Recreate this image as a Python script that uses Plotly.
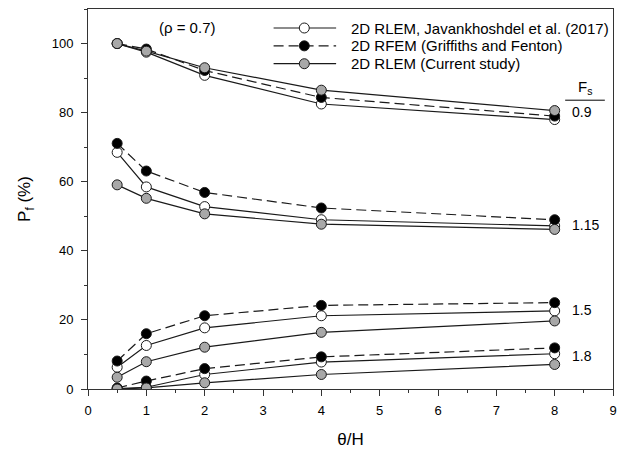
import plotly.graph_objects as go

# theta/H values shared by every curve
theta_h = [0.5, 1, 2, 4, 8]

# Probability of failure (%) for each factor of safety
rlem_jav = {
    "0.9": [100, 97.5, 90.8, 82.5, 78.0],
    "1.15": [68.5, 58.5, 52.8, 49.0, 47.2],
    "1.5": [6.3, 12.6, 17.7, 21.2, 22.6],
    "1.8": [0.1, 0.5, 4.2, 7.8, 10.2],
}
rfem_gf = {
    "0.9": [100, 98.4, 92.2, 84.4, 79.0],
    "1.15": [71.1, 63.1, 56.9, 52.4, 49.0],
    "1.5": [8.1, 16.0, 21.2, 24.2, 25.0],
    "1.8": [0.3, 2.3, 5.9, 9.3, 11.9],
}
rlem_cur = {
    "0.9": [100, 97.8, 93.0, 86.5, 80.6],
    "1.15": [59.1, 55.2, 50.7, 47.7, 46.2],
    "1.5": [3.4, 7.9, 12.1, 16.4, 19.7],
    "1.8": [0.0, 0.3, 1.8, 4.2, 7.1],
}
fs_labels = ["0.9", "1.15", "1.5", "1.8"]
fs_label_y = [80.1, 47.5, 22.9, 9.6]

legend_names = [
    "2D RLEM, Javankhoshdel et al. (2017)",
    "2D RFEM (Griffiths and Fenton)",
    "2D RLEM (Current study)",
]

font_family = "Liberation Sans, Arial, sans-serif"
line_col = "#1a1a1a"

series = [
    (rlem_jav, legend_names[0], "white", "solid"),
    (rfem_gf, legend_names[1], "black", "10px,5px"),
    (rlem_cur, legend_names[2], "#a8a8a8", "solid"),
]

fig = go.Figure()
for data, name, fill, dash in series:
    for fs in fs_labels:
        fig.add_trace(go.Scatter(
            x=theta_h, y=data[fs], mode="lines+markers",
            name=name, showlegend=False,
            line=dict(color=line_col, width=1.2, dash=dash),
            marker=dict(size=10, color=fill, line=dict(color=line_col, width=1)),
        ))

# Key drawn on an overlay axis spanning the plot area in fractional units
key_x0, key_x1, key_xm, key_text_x = 0.3535, 0.4726, 0.412, 0.497
key_rows = [0.950, 0.903, 0.856]
annotations = []
for (data, name, fill, dash), ky in zip(series, key_rows):
    fig.add_trace(go.Scatter(
        x=[key_x0, key_x1], y=[ky, ky], mode="lines", xaxis="x2", yaxis="y2",
        showlegend=False, hoverinfo="skip",
        line=dict(color=line_col, width=1.2, dash=dash)))
    fig.add_trace(go.Scatter(
        x=[key_xm], y=[ky], mode="markers", xaxis="x2", yaxis="y2",
        showlegend=False, hoverinfo="skip",
        marker=dict(size=10, color=fill, line=dict(color=line_col, width=1))))
    annotations.append(dict(x=key_text_x, y=ky, xref="x2", yref="y2", text=name,
                            showarrow=False, xanchor="left", yanchor="middle",
                            font=dict(size=15, family=font_family, color="black")))

annotations += [
    dict(x=1.70, y=104.6, xref="x", yref="y", text="(\u03c1 = 0.7)", showarrow=False,
         font=dict(size=15, family=font_family, color="black")),
    dict(x=8.52, y=87.2, xref="x", yref="y", text="F<sub>s</sub>", showarrow=False,
         font=dict(size=15, family=font_family, color="black")),
]
for lab, yy in zip(fs_labels, fs_label_y):
    annotations.append(dict(x=8.27, y=yy, xref="x", yref="y", text=lab, showarrow=False,
                            xanchor="left", font=dict(size=14, family=font_family, color="black")))

fig.update_layout(
    width=624, height=454,
    margin=dict(l=88, r=7, t=9, b=65),
    paper_bgcolor="white", plot_bgcolor="white",
    font=dict(family=font_family, size=13, color="black"),
    showlegend=False,
    annotations=annotations,
    shapes=[dict(type="line", xref="x", yref="y", x0=8.18, x1=8.86, y0=83.6, y1=83.6,
                 line=dict(color="black", width=1))],
    xaxis=dict(range=[0, 9], dtick=1, tick0=0, showgrid=False, zeroline=False,
               showline=True, linecolor="#333", linewidth=1, mirror=True,
               ticks="outside", ticklen=6, tickcolor="#333", ticklabelstandoff=3,
               minor=dict(dtick=0.5, ticks="outside", ticklen=3, tickcolor="#333"),
               title=dict(text="\u03b8/H", font=dict(size=17), standoff=16),
               tickfont=dict(size=13)),
    yaxis=dict(range=[0, 110], dtick=20, tick0=0, showgrid=False, zeroline=False,
               showline=True, linecolor="#333", linewidth=1, mirror=True,
               ticks="outside", ticklen=6, tickcolor="#333", ticklabelstandoff=5,
               minor=dict(dtick=10, ticks="outside", ticklen=3, tickcolor="#333"),
               title=dict(text="P<sub>f</sub> (%)", font=dict(size=17), standoff=16),
               tickfont=dict(size=13)),
    xaxis2=dict(domain=[0, 1], range=[0, 1], overlaying="x", anchor="y2", visible=False,
                fixedrange=True),
    yaxis2=dict(domain=[0, 1], range=[0, 1], overlaying="y", anchor="x2", visible=False,
                fixedrange=True),
)

fig.write_html("out.html")
